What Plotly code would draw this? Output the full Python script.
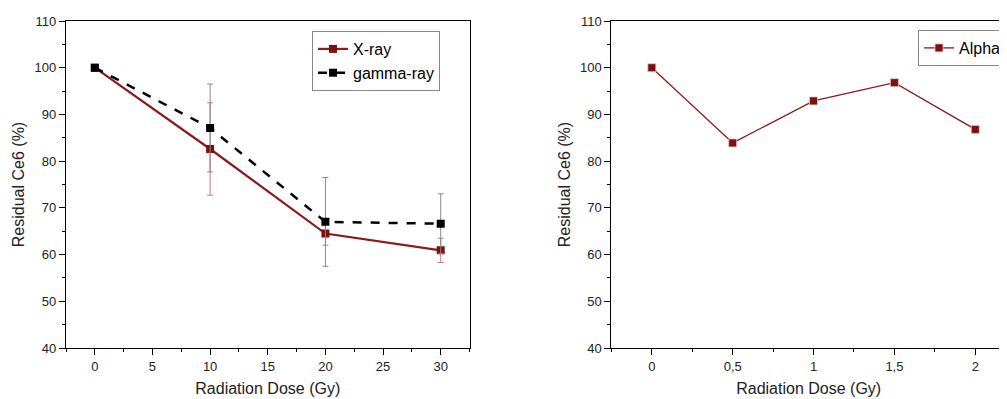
import plotly.graph_objects as go

# ---- data ----
dose_gy = [0, 10, 20, 30]
xray = [100, 82.6, 64.5, 60.9]
xray_err = [0, 9.9, 2.5, 2.6]
gamma = [100, 87.1, 67.0, 66.6]
gamma_err = [0, 9.4, 9.5, 6.4]

alpha_dose = [0, 0.5, 1, 1.5, 2]
alpha = [100, 83.9, 92.9, 96.8, 86.8]

left_xticks = [0, 5, 10, 15, 20, 25, 30]
right_xticks = [0, 0.5, 1, 1.5, 2]
right_xticklabels = ["0", "0,5", "1", "1,5", "2"]
yticks = [40, 50, 60, 70, 80, 90, 100, 110]

DARKRED = "#8b1a1a"
FONT = "Liberation Sans, Arial, sans-serif"

fig = go.Figure()

fig.add_trace(go.Scatter(
    x=dose_gy, y=xray, name="X-ray", mode="lines+markers",
    line=dict(color=DARKRED, width=2.2),
    marker=dict(symbol="square", size=8, color="#7a1010", line=dict(width=0)),
    error_y=dict(type="data", array=xray_err, visible=True, color="#c77a7a", thickness=1, width=3),
    xaxis="x", yaxis="y", legend="legend",
))
fig.add_trace(go.Scatter(
    x=dose_gy, y=gamma, name="gamma-ray", mode="lines+markers",
    line=dict(color="black", width=2.5, dash="dash"),
    marker=dict(symbol="square", size=8, color="black", line=dict(width=0)),
    error_y=dict(type="data", array=gamma_err, visible=True, color="#8a8a8a", thickness=1, width=3),
    xaxis="x", yaxis="y", legend="legend",
))
fig.add_trace(go.Scatter(
    x=alpha_dose, y=alpha, name="Alpha", mode="lines+markers",
    line=dict(color=DARKRED, width=1.3),
    marker=dict(symbol="square", size=8, color="#7a1010", line=dict(width=0.8, color="#e8c8c8")),
    xaxis="x2", yaxis="y2", legend="legend2",
))

axis_common = dict(
    showline=True, linecolor="black", linewidth=1.3,
    ticks="outside", ticklen=6, tickwidth=1.2, tickcolor="black",
    showgrid=False, zeroline=False, automargin=False,
    tickfont=dict(family=FONT, size=13, color="#222"),
)
minor_common = dict(ticks="outside", ticklen=3, tickwidth=1, tickcolor="black", showgrid=False)
title_font = dict(family=FONT, size=16, color="#222")

# the page body adds an 8px offset, so the figure is 8px smaller on each side
fig.update_layout(
    width=999, height=391,
    margin=dict(l=58, r=0, t=13, b=51),
    paper_bgcolor="white", plot_bgcolor="white",
    showlegend=True,
    font=dict(family=FONT, color="black"),
    xaxis=dict(
        **axis_common, domain=[0, 0.4293], range=[-2.5, 32.5], mirror=True,
        tickvals=left_xticks, minor=dict(**minor_common, dtick=2.5, tick0=2.5),
        title=dict(text="Radiation Dose (Gy)", font=title_font, standoff=10),
        anchor="y",
    ),
    yaxis=dict(
        **axis_common, domain=[0, 1], range=[40, 110], mirror=True,
        tickvals=yticks, minor=dict(**minor_common, dtick=5, tick0=45),
        title=dict(text="Residual Ce6 (%)", font=title_font, standoff=5),
        anchor="x",
    ),
    xaxis2=dict(
        **axis_common, domain=[0.5802, 1], range=[-0.25, 2.19], mirror=True,
        tickvals=right_xticks, ticktext=right_xticklabels,
        minor=dict(**minor_common, dtick=0.25, tick0=0.25),
        title=dict(text="Radiation Dose (Gy)", font=title_font, standoff=10),
        anchor="y2",
    ),
    yaxis2=dict(
        **axis_common, domain=[0, 1], range=[40, 110], mirror=False,
        tickvals=yticks, minor=dict(**minor_common, dtick=5, tick0=45),
        title=dict(text="Residual Ce6 (%)", font=title_font, standoff=5),
        anchor="x2",
    ),
    legend=dict(
        x=0.2614, y=0.9694, xanchor="left", yanchor="top",
        bordercolor="#888", borderwidth=1, bgcolor="white",
        font=dict(family=FONT, size=16, color="black"),
        tracegroupgap=0,
    ),
    legend2=dict(
        x=0.9065, y=0.9725, xanchor="left", yanchor="top",
        bordercolor="#888", borderwidth=1, bgcolor="white",
        font=dict(family=FONT, size=16, color="black"),
    ),
)

fig.write_html("out.html")
